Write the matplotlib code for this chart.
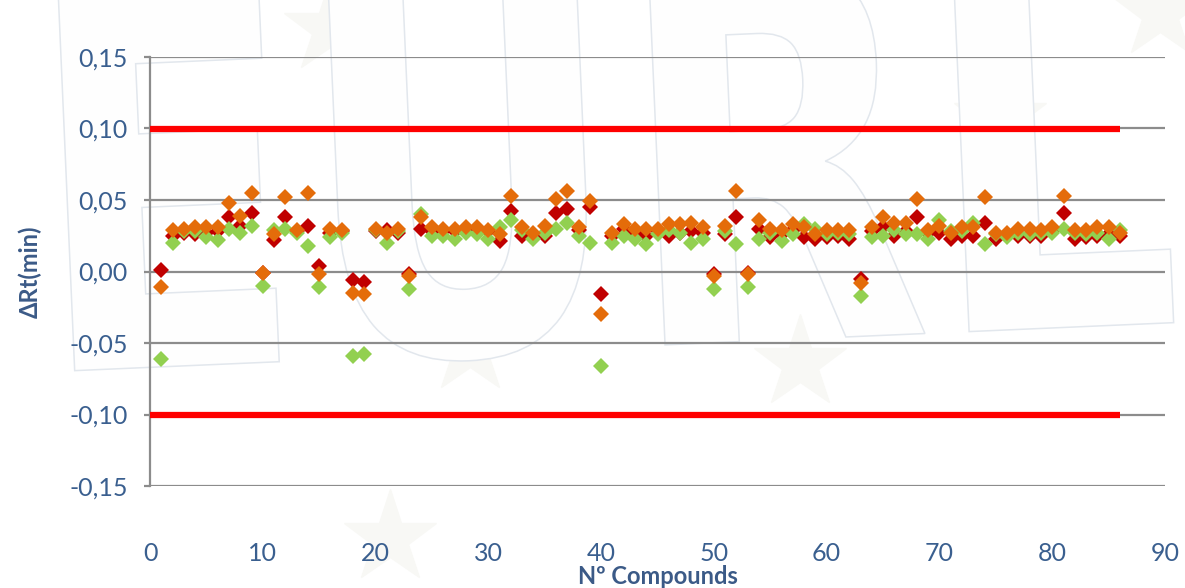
import matplotlib
matplotlib.use('Agg')
import matplotlib.pyplot as plt
import matplotlib.transforms as mtransforms
from matplotlib.textpath import TextPath
from matplotlib.patches import PathPatch
from matplotlib.font_manager import FontProperties
from matplotlib.ticker import FuncFormatter, MultipleLocator

# Retention time deviation per compound, three runs
compounds = list(range(1, 87))
run_red = [0.001, 0.025, 0.027, 0.026, 0.027, 0.028, 0.038, 0.032, 0.041, -0.001,
           0.022, 0.038, 0.028, 0.032, 0.004, 0.027, 0.028, -0.006, -0.007, 0.028,
           0.029, 0.027, -0.002, 0.030, 0.028, 0.028, 0.028, 0.029, 0.029, 0.028,
           0.021, 0.042, 0.025, 0.026, 0.025, 0.041, 0.044, 0.029, 0.045, -0.016,
           0.025, 0.030, 0.027, 0.025, 0.028, 0.025, 0.027, 0.028, 0.027, -0.002,
           0.026, 0.038, -0.001, 0.030, 0.024, 0.026, 0.029, 0.024, 0.023, 0.024,
           0.025, 0.023, -0.005, 0.028, 0.031, 0.025, 0.028, 0.038, 0.027, 0.027,
           0.023, 0.025, 0.025, 0.034, 0.023, 0.025, 0.025, 0.025, 0.025, 0.028,
           0.041, 0.023, 0.024, 0.025, 0.026, 0.025]
run_orange = [-0.011, 0.029, 0.030, 0.031, 0.031, 0.031, 0.048, 0.039, 0.055, -0.001,
              0.026, 0.052, 0.029, 0.055, -0.002, 0.030, 0.029, -0.015, -0.016, 0.030,
              0.027, 0.030, -0.003, 0.038, 0.031, 0.030, 0.030, 0.031, 0.031, 0.029,
              0.026, 0.053, 0.031, 0.027, 0.032, 0.051, 0.056, 0.031, 0.049, -0.030,
              0.027, 0.033, 0.030, 0.030, 0.030, 0.033, 0.033, 0.034, 0.031, -0.003,
              0.032, 0.056, -0.002, 0.036, 0.030, 0.029, 0.033, 0.031, 0.026, 0.029,
              0.029, 0.029, -0.008, 0.031, 0.038, 0.034, 0.034, 0.051, 0.029, 0.032,
              0.027, 0.031, 0.031, 0.052, 0.027, 0.027, 0.030, 0.030, 0.029, 0.031,
              0.053, 0.029, 0.029, 0.031, 0.031, 0.027]
run_green = [-0.061, 0.020, 0.028, 0.028, 0.024, 0.022, 0.030, 0.027, 0.032, -0.010,
             0.029, 0.030, 0.027, 0.018, -0.011, 0.024, 0.027, -0.059, -0.058, 0.029,
             0.020, 0.028, -0.012, 0.040, 0.025, 0.025, 0.023, 0.027, 0.026, 0.023,
             0.031, 0.036, 0.029, 0.023, 0.027, 0.030, 0.034, 0.025, 0.020, -0.066,
             0.020, 0.025, 0.023, 0.019, 0.026, 0.029, 0.027, 0.020, 0.023, -0.012,
             0.028, 0.019, -0.011, 0.023, 0.027, 0.021, 0.026, 0.033, 0.030, 0.026,
             0.027, 0.026, -0.017, 0.024, 0.025, 0.029, 0.026, 0.026, 0.023, 0.036,
             0.028, 0.028, 0.034, 0.019, 0.026, 0.024, 0.027, 0.026, 0.027, 0.027,
             0.030, 0.027, 0.026, 0.027, 0.023, 0.029]

# acceptance limits
limit_x = [0, 86]
limit_hi = [0.10, 0.10]
limit_lo = [-0.10, -0.10]

text_col = '#3A5F8F'
grid_col = '#8C8C8C'

fig = plt.figure(figsize=(11.85, 5.88), dpi=100)
ax = fig.add_axes([150 / 1185, 1 - 486 / 588, 1015 / 1185, 429 / 588])
ax.patch.set_alpha(0)

# faint logo behind the plot
tp = TextPath((0, 0), 'EURL', size=1, prop=FontProperties(family='DejaVu Sans', weight='bold'))
bb = tp.get_extents()
tr = (mtransforms.Affine2D()
      .translate(-bb.x0, -bb.y0)
      .scale(1100 / bb.width, 385 / bb.height)
      .rotate_deg(2.5)
      .translate(75, 210))
logo = PathPatch(tr.transform_path(tp), transform=mtransforms.IdentityTransform(),
                 facecolor='#fefefe', edgecolor='#e2e7ed', lw=1.1, zorder=-5)
fig.add_artist(logo)
for sx, sy in [(330, 560), (1000, 470), (390, 50), (800, 225), (1160, 575), (470, 240)]:
    fig.add_artist(plt.Line2D([sx], [sy], marker='*', markersize=70, color='#f8f8f5',
                              transform=mtransforms.IdentityTransform(), zorder=-6))

ax.plot(limit_x, limit_hi, color='#FF0000', lw=4.5, solid_capstyle='butt', zorder=3)
ax.plot(limit_x, limit_lo, color='#FF0000', lw=4.5, solid_capstyle='butt', zorder=3)

ax.plot(compounds, run_red, 'D', color='#C00000', ms=8.5, mew=0, zorder=4)
ax.plot(compounds, run_green, 'D', color='#92D050', ms=8.5, mew=0, zorder=5)
ax.plot(compounds, run_orange, 'D', color='#E46C0A', ms=8.5, mew=0, zorder=6)

ax.set_xlim(0, 90)
ax.set_ylim(-0.15, 0.15)
ax.xaxis.set_major_locator(MultipleLocator(10))
ax.yaxis.set_major_locator(MultipleLocator(0.05))
ax.yaxis.set_major_formatter(FuncFormatter(lambda v, p: f'{v:.2f}'.replace('.', ',')))

ax.grid(axis='y', color=grid_col, lw=1.6, zorder=1)
ax.set_axisbelow(True)
for side in ['top', 'right', 'bottom']:
    ax.spines[side].set_visible(False)
ax.spines['left'].set_color(grid_col)
ax.spines['left'].set_linewidth(1.6)

ax.tick_params(axis='y', length=4, width=1.6, color=grid_col, pad=12,
               labelsize=18, labelcolor=text_col)
ax.tick_params(axis='x', length=0, pad=40, labelsize=18, labelcolor=text_col)
for lab in ax.get_xticklabels() + ax.get_yticklabels():
    lab.set_family('Lato')

ax.set_xlabel('Nº Compounds', fontsize=17, fontweight='bold', color='#3B5A87', family='Lato')
ax.xaxis.label.set_va('center')
ax.xaxis.set_label_coords(0.5, -90 / 429)
ax.set_ylabel('ΔRt(min)', fontsize=17, fontweight='bold', color='#3B5A87', family='Lato')
ax.yaxis.label.set_va('center')
ax.yaxis.set_label_coords(-120 / 1015, 0.5)

fig.savefig('out.png', dpi=100)
